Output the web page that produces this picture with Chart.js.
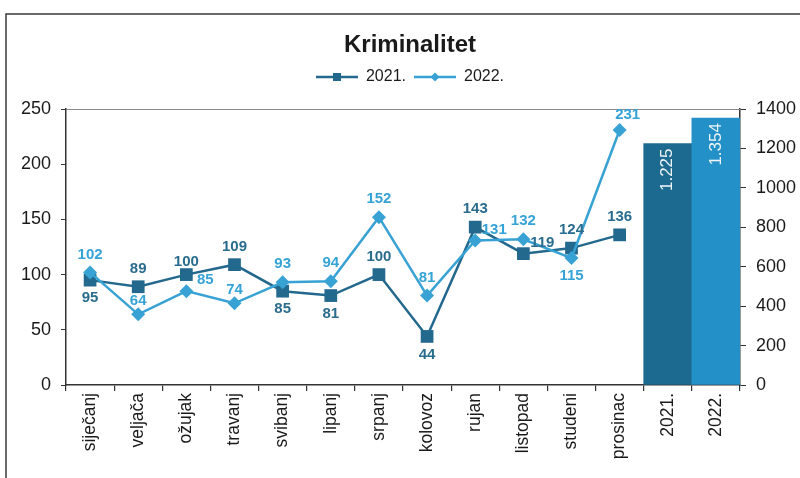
<!DOCTYPE html>
<html>
<head>
<meta charset="utf-8">
<script src="https://cdn.jsdelivr.net/npm/chart.js@4/dist/chart.umd.min.js"></script>
<style>
  html, body { margin: 0; padding: 0; background: #fff; }
</style>
</head>
<body>
<canvas id="crimeChart" width="800" height="478"></canvas>
<script>
// categories
const months = ['siječanj', 'veljača', 'ožujak', 'travanj', 'svibanj', 'lipanj',
  'srpanj', 'kolovoz', 'rujan', 'listopad', 'studeni', 'prosinac'];
const yearLabels = ['2021.', '2022.'];

// monthly values
const values2021 = [95, 89, 100, 109, 85, 81, 100, 44, 143, 119, 124, 136];
const values2022 = [102, 64, 85, 74, 93, 94, 152, 81, 131, 132, 115, 231];

// yearly totals (right axis)
const yearTotals = [1225, 1354];
const totalLabels = ['1.225', '1.354'];

// where each value label sits relative to its point
const place2021 = ['below', 'above', 'near', 'above', 'below', 'below', 'above', 'below', 'above', 'right', 'above', 'above'];
const place2022 = ['above', 'near', 'right', 'near', 'above', 'above', 'above', 'above', 'right', 'above', 'below', 'aboveRight'];

const dark = '#23688d';
const light = '#37a2d3';
const darkText = '#2a6c8e';
const lightText = '#36a3d6';
const fontFamily = '"Liberation Sans", Arial, sans-serif';

const offsets = {
  above: [0, -18],
  near: [0, -13],
  below: [0, 18],
  right: [19, -11],
  aboveRight: [8, -15]
};

// small legend images: line with marker
function legendIcon(color, marker) {
  const c = document.createElement('canvas');
  c.width = 42; c.height = 12;
  const g = c.getContext('2d');
  g.strokeStyle = color;
  g.lineWidth = 2.5;
  g.beginPath(); g.moveTo(0, 6); g.lineTo(42, 6); g.stroke();
  g.fillStyle = color;
  if (marker === 'square') {
    g.fillRect(17, 2, 8, 8);
  } else {
    g.beginPath();
    g.moveTo(21, 1.5); g.lineTo(25.5, 6); g.lineTo(21, 10.5); g.lineTo(16.5, 6);
    g.closePath(); g.fill();
  }
  return c;
}
const icon2021 = legendIcon(dark, 'square');
const icon2022 = legendIcon(light, 'diamond');

const decorPlugin = {
  id: 'decor',
  afterInit(chart) {
    // extra space under the legend
    const legend = chart.legend;
    const fit = legend.fit;
    legend.fit = function() {
      fit.call(this);
      this.height += 14;
    };
  },
  beforeDraw(chart) {
    const ctx = chart.ctx;
    ctx.save();
    ctx.fillStyle = '#fff';
    ctx.fillRect(0, 0, chart.width, chart.height);
    // outer frame
    ctx.strokeStyle = '#3a3a3a';
    ctx.lineWidth = 1.5;
    ctx.beginPath();
    ctx.moveTo(6, chart.height);
    ctx.lineTo(6, 14);
    ctx.lineTo(chart.width, 14);
    ctx.stroke();
    ctx.restore();
  },
  afterDatasetsDraw(chart) {
    const ctx = chart.ctx;
    const area = chart.chartArea;
    ctx.save();
    // top border of plot area
    ctx.strokeStyle = '#8a8a8a';
    ctx.lineWidth = 1;
    ctx.beginPath();
    ctx.moveTo(area.left, area.top + 0.5);
    ctx.lineTo(area.right, area.top + 0.5);
    ctx.stroke();

    // value labels on lines
    ctx.font = 'bold 15px ' + fontFamily;
    ctx.textAlign = 'center';
    ctx.textBaseline = 'middle';
    const lineSets = [
      { index: 1, values: values2021, place: place2021, color: darkText },
      { index: 2, values: values2022, place: place2022, color: lightText }
    ];
    lineSets.forEach(s => {
      const meta = chart.getDatasetMeta(s.index);
      meta.data.forEach((pt, i) => {
        const off = offsets[s.place[i]];
        ctx.fillStyle = s.color;
        ctx.fillText(String(s.values[i]), pt.x + off[0], pt.y + off[1]);
      });
    });

    // rotated labels inside the bars
    const barMeta = chart.getDatasetMeta(0);
    ctx.font = '17px ' + fontFamily;
    ctx.fillStyle = '#eef4f8';
    ctx.textAlign = 'right';
    barMeta.data.forEach((bar, i) => {
      const k = i - months.length;
      if (k < 0) return;
      ctx.save();
      ctx.translate(bar.x, bar.y + 5);
      ctx.rotate(-Math.PI / 2);
      ctx.fillText(totalLabels[k], 0, 0);
      ctx.restore();
    });
    ctx.restore();
  }
};

const ctx = document.getElementById('crimeChart').getContext('2d');

new Chart(ctx, {
  type: 'bar',
  data: {
    labels: months.concat(yearLabels),
    datasets: [
      {
        type: 'bar',
        label: 'Ukupno',
        data: Array(months.length).fill(null).concat(yearTotals),
        backgroundColor: Array(months.length).fill(dark).concat(['#1d6a90', '#2391c7']),
        yAxisID: 'y1',
        barPercentage: 1,
        categoryPercentage: 1,
        order: 3
      },
      {
        type: 'line',
        label: '2021.',
        data: values2021,
        borderColor: dark,
        backgroundColor: dark,
        borderWidth: 2.5,
        pointStyle: 'rect',
        pointRadius: 9,
        pointBackgroundColor: dark,
        pointBorderWidth: 0,
        yAxisID: 'y',
        order: 2
      },
      {
        type: 'line',
        label: '2022.',
        data: values2022,
        borderColor: light,
        backgroundColor: light,
        borderWidth: 2.5,
        pointStyle: 'rectRot',
        pointRadius: 7,
        pointBackgroundColor: light,
        pointBorderWidth: 0,
        yAxisID: 'y',
        order: 1
      }
    ]
  },
  options: {
    responsive: false,
    animation: false,
    layout: { padding: { top: 14, left: 20, right: 0, bottom: 0 } },
    plugins: {
      title: {
        display: true,
        text: 'Kriminalitet',
        color: '#1a1a1a',
        font: { family: fontFamily, size: 24, weight: 'bold' },
        padding: { top: 16.6, bottom: 1.6 }
      },
      legend: {
        display: true,
        labels: {
          color: '#1a1a1a',
          font: { family: fontFamily, size: 16 },
          usePointStyle: true,
          pointStyleWidth: 42,
          padding: 8,
          filter: item => item.datasetIndex !== 0,
          sort: (a, b) => a.datasetIndex - b.datasetIndex,
          generateLabels: chart => {
            const items = Chart.defaults.plugins.legend.labels.generateLabels(chart);
            items.forEach(item => {
              if (item.datasetIndex === 1) item.pointStyle = icon2021;
              if (item.datasetIndex === 2) item.pointStyle = icon2022;
            });
            return items;
          }
        }
      },
      tooltip: { enabled: false }
    },
    scales: {
      x: {
        offset: true,
        grid: { display: true, drawOnChartArea: false, offset: true, tickLength: 6, color: '#333', lineWidth: 1.2 },
        border: { color: '#333', width: 1.5 },
        ticks: {
          color: '#1a1a1a',
          font: { family: fontFamily, size: 17.5 },
          minRotation: 90,
          maxRotation: 90,
          padding: 2
        },
        afterFit: scale => { scale.height = 93; }
      },
      y: {
        position: 'left',
        min: 0,
        max: 250,
        ticks: { stepSize: 50, color: '#1a1a1a', font: { family: fontFamily, size: 18 }, padding: 10 },
        grid: { drawOnChartArea: false, tickLength: 5, color: '#333' },
        border: { color: '#333', width: 1.5 },
        afterFit: scale => { scale.width = 46; }
      },
      y1: {
        position: 'right',
        min: 0,
        max: 1400,
        ticks: {
          stepSize: 200,
          color: '#1a1a1a',
          font: { family: fontFamily, size: 18 },
          padding: 10,
          callback: v => String(v)
        },
        grid: { drawOnChartArea: false, tickLength: 6, color: '#333' },
        border: { color: '#333', width: 1.5 },
        afterFit: scale => { scale.width = 60; }
      }
    }
  },
  plugins: [decorPlugin]
});
</script>
</body>
</html>
